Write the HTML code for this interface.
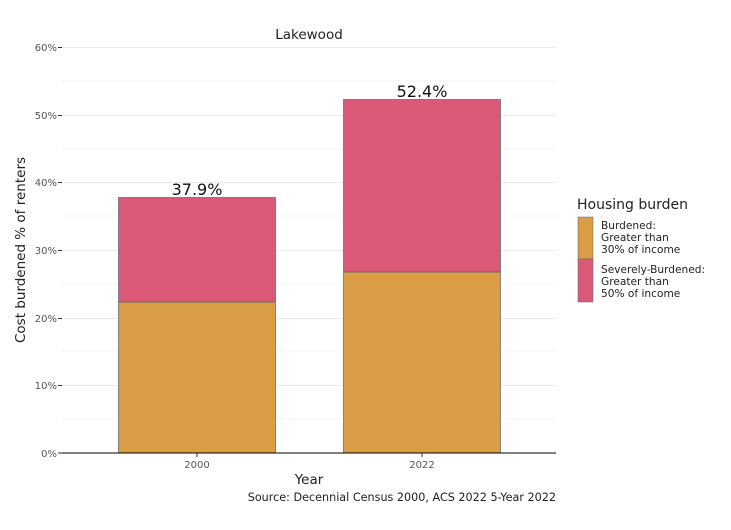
<!DOCTYPE html><html><head><style>body{margin:0;background:#fff}svg{font-family:"DejaVu Sans","Liberation Sans",sans-serif}</style></head><body>
<svg width="731" height="525" xmlns="http://www.w3.org/2000/svg">
<rect width="731" height="525" fill="#fff"/>
<g stroke="#ebebeb" stroke-width="1">
<line x1="62" x2="556" y1="81" y2="81" stroke-width="0.6"/><line x1="62" x2="556" y1="149" y2="149" stroke-width="0.6"/><line x1="62" x2="556" y1="216" y2="216" stroke-width="0.6"/><line x1="62" x2="556" y1="284" y2="284" stroke-width="0.6"/><line x1="62" x2="556" y1="351" y2="351" stroke-width="0.6"/><line x1="62" x2="556" y1="419" y2="419" stroke-width="0.6"/>
<line x1="62" x2="556" y1="47.5" y2="47.5"/><line x1="62" x2="556" y1="115.5" y2="115.5"/><line x1="62" x2="556" y1="182.5" y2="182.5"/><line x1="62" x2="556" y1="250.5" y2="250.5"/><line x1="62" x2="556" y1="318.5" y2="318.5"/><line x1="62" x2="556" y1="385.5" y2="385.5"/>
</g>
<g stroke="#5a6470" stroke-width="0.7">
<rect x="118.5" y="302" width="157" height="151" fill="#da9d46"/>
<rect x="118.5" y="197.5" width="157" height="104.5" fill="#d95977"/>
<rect x="343.5" y="272" width="157" height="181" fill="#da9d46"/>
<rect x="343.5" y="99.5" width="157" height="172.5" fill="#d95977"/>
</g>
<line x1="62" x2="556" y1="453" y2="453" stroke="#000" stroke-width="1"/>
<g font-size="10" fill="#555" text-anchor="end">
<text x="57" y="51">60%</text><text x="57" y="119">50%</text><text x="57" y="186">40%</text><text x="57" y="254">30%</text><text x="57" y="322">20%</text><text x="57" y="389">10%</text><text x="57" y="457">0%</text>
</g>
<g stroke="#333"><line x1="58" x2="62" y1="47.5" y2="47.5"/><line x1="58" x2="62" y1="115.5" y2="115.5"/><line x1="58" x2="62" y1="182.5" y2="182.5"/><line x1="58" x2="62" y1="250.5" y2="250.5"/><line x1="58" x2="62" y1="318.5" y2="318.5"/><line x1="58" x2="62" y1="385.5" y2="385.5"/><line x1="58" x2="62" y1="453" y2="453"/>
<line x1="197" x2="197" y1="453" y2="457"/><line x1="422" x2="422" y1="453" y2="457"/></g>
<g font-size="10" fill="#555" text-anchor="middle"><text x="197" y="468">2000</text><text x="422" y="468">2022</text></g>
<text x="309" y="39" font-size="13.5" text-anchor="middle" fill="#222">Lakewood</text>
<text x="197" y="195" font-size="16" text-anchor="middle" fill="#111">37.9%</text>
<text x="422" y="97" font-size="16" text-anchor="middle" fill="#111">52.4%</text>
<text x="309" y="484" font-size="13.5" text-anchor="middle" fill="#222">Year</text>
<text transform="translate(25,250) rotate(-90)" font-size="13.5" text-anchor="middle" fill="#222">Cost burdened % of renters</text>
<text x="556" y="501" font-size="11.2" text-anchor="end" fill="#222">Source: Decennial Census 2000, ACS 2022 5-Year 2022</text>
<text x="577" y="209" font-size="14" fill="#222">Housing burden</text>
<rect x="578" y="217" width="15" height="42" fill="#da9d46" stroke="#5a6470" stroke-width="0.5"/>
<rect x="578" y="259" width="15" height="43" fill="#d95977" stroke="#5a6470" stroke-width="0.5"/>
<g font-size="10.6" fill="#222"><text x="601" y="229">Burdened:</text><text x="601" y="241">Greater than</text><text x="601" y="253">30% of income</text>
<text x="601" y="273">Severely-Burdened:</text><text x="601" y="285">Greater than</text><text x="601" y="297">50% of income</text></g>
</svg></body></html>
